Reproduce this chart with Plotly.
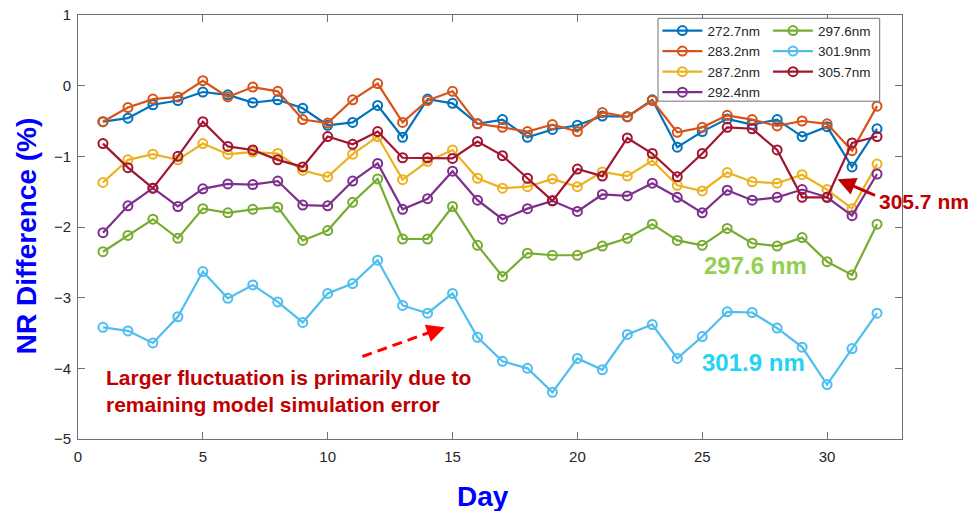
import plotly.graph_objects as go

days = list(range(1, 33))

series_names = ["272.7nm", "283.2nm", "287.2nm", "292.4nm", "297.6nm", "301.9nm", "305.7nm"]
colors = ["#0072BD", "#D95319", "#EDB120", "#7E2F8E", "#77AC30", "#4DBEEE", "#A2142F"]

s272 = [-0.51, -0.46, -0.27, -0.21, -0.09, -0.13, -0.24, -0.20, -0.32, -0.56, -0.52, -0.28, -0.73, -0.19, -0.25, -0.54,
        -0.48, -0.73, -0.62, -0.56, -0.43, -0.44, -0.20, -0.87, -0.65, -0.47, -0.55, -0.48, -0.72, -0.58, -1.15, -0.61]
s283 = [-0.51, -0.31, -0.19, -0.16, 0.07, -0.16, -0.02, -0.08, -0.48, -0.53, -0.20, 0.03, -0.52, -0.21, -0.08, -0.54,
        -0.59, -0.65, -0.55, -0.65, -0.38, -0.44, -0.21, -0.66, -0.59, -0.42, -0.48, -0.57, -0.50, -0.54, -0.92, -0.29]
s287 = [-1.37, -1.05, -0.97, -1.05, -0.82, -0.97, -0.94, -0.96, -1.20, -1.29, -0.97, -0.72, -1.33, -1.07, -0.91, -1.31,
        -1.45, -1.43, -1.32, -1.43, -1.22, -1.28, -1.06, -1.41, -1.49, -1.23, -1.36, -1.38, -1.26, -1.47, -1.74, -1.11]
s292 = [-2.08, -1.70, -1.45, -1.71, -1.46, -1.39, -1.40, -1.35, -1.69, -1.70, -1.35, -1.10, -1.75, -1.60, -1.21, -1.62,
        -1.89, -1.74, -1.63, -1.78, -1.54, -1.56, -1.38, -1.58, -1.80, -1.48, -1.62, -1.58, -1.47, -1.58, -1.84, -1.25]
s297 = [-2.35, -2.12, -1.89, -2.16, -1.74, -1.80, -1.75, -1.72, -2.19, -2.05, -1.65, -1.32, -2.17, -2.17, -1.71, -2.26,
        -2.70, -2.37, -2.40, -2.40, -2.27, -2.16, -1.96, -2.19, -2.26, -2.02, -2.23, -2.27, -2.15, -2.49, -2.68, -1.96]
s301 = [-3.42, -3.47, -3.64, -3.27, -2.63, -3.01, -2.82, -3.06, -3.35, -2.94, -2.80, -2.47, -3.11, -3.22, -2.94, -3.56,
        -3.90, -4.00, -4.34, -3.86, -4.02, -3.52, -3.38, -3.86, -3.55, -3.20, -3.21, -3.43, -3.70, -4.23, -3.72, -3.22]
s305 = [-0.82, -1.16, -1.45, -1.00, -0.51, -0.86, -0.91, -1.05, -1.15, -0.72, -0.83, -0.65, -1.02, -1.02, -1.03, -0.79,
        -0.99, -1.31, -1.63, -1.18, -1.28, -0.74, -0.96, -1.29, -0.96, -0.59, -0.61, -0.91, -1.58, -1.58, -0.81, -0.72]

all_series = [s272, s283, s287, s292, s297, s301, s305]
legend_of = ["legend", "legend", "legend", "legend", "legend2", "legend2", "legend2"]

x_ticks = [0, 5, 10, 15, 20, 25, 30]
y_ticks = [-5, -4, -3, -2, -1, 0, 1]

FONT = "Arial, Liberation Sans, sans-serif"
AX = "#707070"
TXT = "#262626"

# plot-area geometry in pixels (for paper-coordinate conversions)
PL, PR, PT, PB = 78.3, 902.3, 14.7, 439.3
PW, PH = PR - PL, PB - PT


def px_x(p):
    return (p - PL) / PW


def px_y(p):
    return (PB - p) / PH


fig = go.Figure()
for name, vals, col, lg in zip(series_names, all_series, colors, legend_of):
    fig.add_trace(go.Scatter(
        x=days, y=vals, name=name, mode="lines+markers",
        line=dict(color=col, width=2.2),
        marker=dict(symbol="circle-open", size=9, color=col, line=dict(width=2, color=col)),
        legend=lg,
    ))

axis_common = dict(
    showline=True, linecolor=AX, linewidth=1, mirror="allticks",
    ticks="inside", ticklen=7, tickcolor=AX, tickwidth=1,
    showgrid=False, zeroline=False, automargin=False,
    tickfont=dict(family=FONT, size=15, color=TXT),
)

legend_common = dict(yanchor="top", xanchor="left", bgcolor="rgba(0,0,0,0)", borderwidth=0,
                     font=dict(family=FONT, size=13.5, color=TXT), itemwidth=40, tracegroupgap=0)

fig.update_layout(
    template="none",
    width=969, height=511,
    margin=dict(l=78, r=67, t=15, b=72, pad=0),
    paper_bgcolor="white", plot_bgcolor="white",
    font=dict(family=FONT, color=TXT),
    xaxis=dict(range=[0, 33], tickvals=x_ticks, ticklabelstandoff=4, **axis_common),
    yaxis=dict(range=[-5, 1], tickvals=y_ticks, ticklabelstandoff=3, **axis_common),
    legend=dict(x=px_x(657.7), y=px_y(15), **legend_common),
    legend2=dict(x=px_x(768.3), y=px_y(15), **legend_common),
    showlegend=True,
)

# legend frame
fig.add_shape(type="rect", xref="paper", yref="paper",
              x0=px_x(658.3), x1=px_x(880), y0=px_y(101), y1=px_y(18),
              line=dict(color=AX, width=1), fillcolor="white", layer="above")

# axis titles
fig.add_annotation(text="<b>NR Difference (%)</b>", xref="paper", yref="paper",
                   x=px_x(27), y=px_y(236.5), textangle=-90,
                   showarrow=False, font=dict(family=FONT, size=28, color="#0000FF"),
                   xanchor="center", yanchor="middle")
fig.add_annotation(text="<b>Day</b>", xref="paper", yref="paper",
                   x=px_x(483), y=px_y(497),
                   showarrow=False, font=dict(family=FONT, size=28, color="#0000FF"),
                   xanchor="center", yanchor="middle")

# series labels
fig.add_annotation(text="<b>305.7 nm</b>", x=32.0, y=-1.644, xanchor="left", yanchor="middle",
                   showarrow=False, font=dict(family=FONT, size=21, color="#C00000"))
fig.add_annotation(text="", x=30.42, y=-1.323, ax=31.98, ay=-1.56, axref="x", ayref="y",
                   showarrow=True, arrowhead=2, arrowsize=1.2, arrowwidth=3, arrowcolor="#C00000", standoff=0)
fig.add_annotation(text="<b>297.6 nm</b>", x=25.0, y=-2.538, xanchor="left", yanchor="middle",
                   showarrow=False, font=dict(family=FONT, size=24, color="#92D050"))
fig.add_annotation(text="<b>301.9 nm</b>", x=24.9, y=-3.92, xanchor="left", yanchor="middle",
                   showarrow=False, font=dict(family=FONT, size=24, color="#22D3F2"))

# note
fig.add_annotation(text="<b>Larger fluctuation is primarily due to<br>remaining model simulation error</b>",
                   x=1.03, y=-4.318, xanchor="left", yanchor="middle", align="left",
                   showarrow=False, font=dict(family=FONT, size=21, color="#C00000"))
fig.add_shape(type="line", x0=11.39, y0=-3.833, x1=14.2, y1=-3.476,
              line=dict(color="#FF0000", width=3, dash="10px,6px"))
fig.add_annotation(text="", x=14.69, y=-3.418, ax=-14, ay=5, showarrow=True,
                   arrowhead=2, arrowsize=1.2, arrowwidth=3, arrowcolor="#FF0000", standoff=0)

fig.write_html("out.html")
